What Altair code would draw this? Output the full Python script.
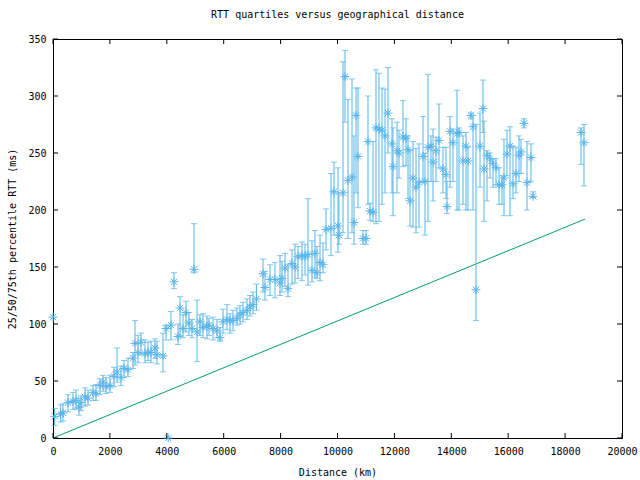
import altair as alt
import pandas as pd

# distance (km), median RTT, 25th percentile, 75th percentile (ms)
distance = [0, 4050,
    59, 270, 350, 527, 703, 808, 914, 984, 1125, 1230, 1406, 1511, 1652, 1757, 1863, 2004,
    2144, 2250, 2390, 2496, 2636, 2812, 2882, 2988, 3093, 3234, 3339, 3445, 3585, 3656, 3867,
    3972, 4148, 4253, 4394, 4464, 4570, 4675, 4780, 4886, 4956, 5062, 5167, 5272, 5413, 5483,
    5624, 5765, 5870, 5975, 6116, 6221, 6327, 6468, 6573, 6678, 6819, 6924, 7030, 7150,
    7381, 7452, 7628, 7803, 7979, 8049, 8155, 8260, 8401, 8506, 8612, 8752, 8858, 8963, 9104,
    9209, 9280, 9385, 9490, 9596, 9772, 9877, 10018, 10050, 10194, 10264, 10369, 10510, 10580,
    10651, 10721, 10897, 11002, 11072, 11143, 11248, 11353, 11459, 11564, 11670, 11775, 11916,
    11951, 12092, 12162, 12303, 12408, 12479, 12549, 12654, 12760, 12865, 13006, 13076, 13181,
    13287, 13357, 13462, 13568, 13708, 13814, 13849, 13955, 14060, 14200, 14271, 14411, 14517,
    14587, 14692, 14763, 14868, 15009, 15114, 15150, 15255, 15360, 15466, 15571, 15677, 15782,
    15852, 15958, 16063, 16169, 16274, 16380, 16450, 16555, 16661, 16801, 16872, 18559, 18664]
median = [106, 0,
    19, 21, 22, 31, 32, 33, 27, 31, 36, 35, 40, 39, 46, 49, 45, 46,
    54, 58, 53, 61, 60, 70, 83, 75, 84, 74, 75, 75, 79, 73, 72,
    96, 99, 137, 89, 114, 96, 110, 101, 96, 148, 93, 102, 97, 98, 99,
    96, 94, 88, 102, 104, 103, 103, 105, 108, 110, 112, 115, 117, 122,
    144, 132, 139, 139, 136, 140, 149, 131, 153, 150, 159, 160, 159, 161, 147,
    162, 145, 154, 152, 183, 184, 216, 186, 178, 215, 317, 226, 229, 189,
    283, 247, 175, 175, 260, 199, 198, 272, 271, 270, 265, 285, 258,
    238, 252, 250, 264, 263, 253, 208, 228, 220, 224, 247, 225, 255,
    256, 242, 252, 261, 236, 231, 203, 269, 259, 267, 268, 243, 256,
    243, 283, 273, 130, 256, 289, 236, 248, 245, 241, 237, 222, 222,
    228, 249, 256, 223, 232, 248, 251, 276, 224, 246, 212, 268, 259]
q25 = [106, 0,
    11, 14, 15, 23, 25, 26, 20, 24, 28, 29, 33, 33, 38, 41, 39, 40,
    45, 49, 46, 53, 54, 61, 64, 66, 73, 66, 68, 66, 70, 65, 58,
    86, 86, 131, 82, 90, 88, 93, 90, 88, 145, 67, 90, 88, 87, 90,
    86, 88, 85, 92, 95, 92, 94, 99, 100, 102, 104, 107, 109, 112,
    128, 121, 125, 123, 125, 128, 133, 124, 135, 136, 140, 138, 143, 134, 137,
    141, 140, 138, 145, 165, 160, 178, 163, 170, 180, 277, 175, 180, 170,
    215, 202, 170, 170, 205, 191, 190, 188, 190, 205, 215, 250, 215,
    195, 215, 228, 238, 239, 210, 186, 185, 180, 185, 225, 178, 190,
    225, 208, 225, 237, 215, 210, 197, 220, 225, 200, 200, 205, 200,
    200, 280, 200, 103, 220, 268, 190, 208, 228, 220, 222, 205, 205,
    195, 230, 195, 210, 215, 225, 232, 272, 200, 225, 211, 240, 221]
q75 = [106, 0,
    26, 29, 30, 38, 40, 42, 35, 37, 44, 42, 46, 47, 52, 55, 53, 55,
    62, 79, 63, 68, 70, 75, 103, 90, 92, 86, 84, 85, 87, 85, 92,
    99, 111, 145, 100, 124, 108, 120, 110, 104, 188, 121, 108, 109, 107, 105,
    106, 104, 97, 113, 117, 109, 112, 114, 116, 119, 122, 125, 128, 135,
    157, 146, 152, 154, 160, 155, 162, 152, 165, 170, 168, 172, 170, 210, 173,
    182, 168, 178, 171, 201, 232, 242, 237, 215, 330, 340, 297, 315, 265,
    307, 307, 182, 182, 300, 206, 260, 323, 320, 307, 306, 325, 280,
    272, 277, 270, 296, 280, 265, 252, 260, 254, 258, 282, 250, 319,
    265, 271, 264, 293, 255, 255, 225, 282, 271, 305, 272, 265, 268,
    255, 285, 283, 275, 285, 314, 278, 252, 250, 245, 245, 237, 230,
    262, 270, 273, 256, 255, 265, 262, 280, 260, 258, 216, 272, 275]

# reference line (propagation delay bound)
line_distance = [0, 18700]
line_rtt = [0, 192]

x_ticks = [0, 2000, 4000, 6000, 8000, 10000, 12000, 14000, 16000, 18000, 20000]
y_ticks = [0, 50, 100, 150, 200, 250, 300, 350]

df = pd.DataFrame({"d": distance, "med": median, "lo": q25, "hi": q75})
line_df = pd.DataFrame({"d": line_distance, "rtt": line_rtt})
xt = pd.DataFrame({"v": x_ticks})
yt = pd.DataFrame({"v": y_ticks})

FONT = "DejaVu Sans Mono"
BLUE = "#56B4E9"
GREEN = "#009E73"
W, H = 569, 399

xscale = alt.Scale(domain=[0, 20000], nice=False, zero=False)
yscale = alt.Scale(domain=[0, 350], nice=False, zero=False)

axis_style = dict(labelFont=FONT, labelFontSize=10, labelColor="black",
                  titleFont=FONT, titleFontSize=10, titleFontWeight="normal",
                  titleColor="black", ticks=False, domain=False, grid=False,
                  labelFlush=False, format="d")

xax = alt.Axis(values=x_ticks, title="Distance (km)", labelPadding=8, titleY=34,
               titleBaseline="middle", **axis_style)
yax = alt.Axis(values=y_ticks, title="25/50/75th percentile RTT (ms)", labelPadding=7,
               titleX=-41, titleY=H / 2, titleAngle=270, titleAlign="center",
               titleBaseline="middle", **axis_style)


def X(f):
    return alt.X(f, scale=xscale, axis=xax)


def Y(f):
    return alt.Y(f, scale=yscale, axis=yax)


base = alt.Chart(df)
barsrc = base.transform_filter("datum.hi > datum.lo")

bars = barsrc.mark_rule(color=BLUE, strokeWidth=1).encode(
    x=X("d:Q"), y=Y("lo:Q"), y2="hi:Q")
cap_lo = barsrc.mark_tick(color=BLUE, orient="horizontal", size=6, thickness=1).encode(
    x=X("d:Q"), y=Y("lo:Q"))
cap_hi = barsrc.mark_tick(color=BLUE, orient="horizontal", size=6, thickness=1).encode(
    x=X("d:Q"), y=Y("hi:Q"))

star = "M-1,0L1,0M0,-1L0,1M-0.7,-0.7L0.7,0.7M-0.7,0.7L0.7,-0.7"
points = base.mark_point(shape=star, filled=False, color=BLUE, size=80,
                         strokeWidth=1, opacity=1, clip=False).encode(x=X("d:Q"), y=Y("med:Q"))

line = alt.Chart(line_df).mark_line(color=GREEN, strokeWidth=1).encode(
    x=X("d:Q"), y=Y("rtt:Q"))

TL = 5
xt_bot = alt.Chart(xt).mark_rule(color="black").encode(
    x=X("v:Q"), y=alt.value(H), y2=alt.value(H - TL))
xt_top = alt.Chart(xt).mark_rule(color="black").encode(
    x=X("v:Q"), y=alt.value(0), y2=alt.value(TL))
yt_left = alt.Chart(yt).mark_rule(color="black").encode(
    y=Y("v:Q"), x=alt.value(0), x2=alt.value(TL))
yt_right = alt.Chart(yt).mark_rule(color="black").encode(
    y=Y("v:Q"), x=alt.value(W), x2=alt.value(W - TL))

chart = alt.layer(
    line, bars, cap_lo, cap_hi, points, xt_bot, xt_top, yt_left, yt_right
).properties(
    width=W, height=H,
    background="white",
    title=alt.TitleParams("RTT quartiles versus geographical distance", anchor="middle",
                          font=FONT, fontSize=10, fontWeight="normal", offset=14, color="black"),
    autosize=alt.AutoSizeParams(type="none"),
    padding={"left": 53, "top": 39, "right": 18, "bottom": 42},
).configure_view(stroke="black", strokeWidth=1)

chart.save("out.html", embed_options={"renderer": "svg", "actions": False})
